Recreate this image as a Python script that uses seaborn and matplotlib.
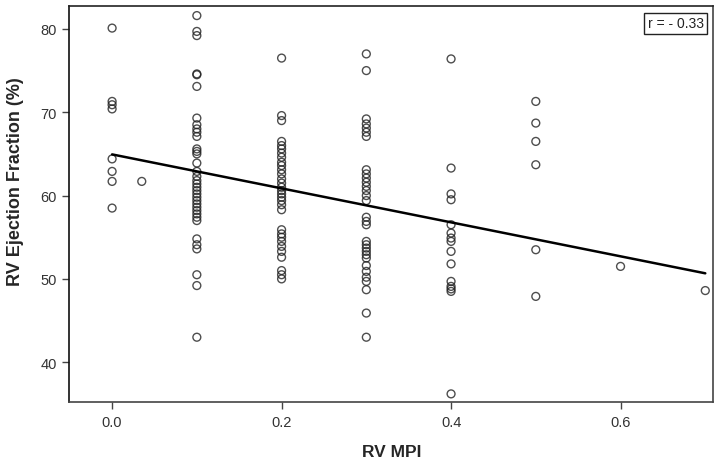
import numpy as np
import pandas as pd
import matplotlib
matplotlib.use("Agg")
import matplotlib.pyplot as plt
import seaborn as sns

# RV MPI groups and the RV ejection fraction values
ef_000 = [80.1, 71.3, 70.9, 70.4, 64.4, 62.9, 61.7, 58.5]
ef_0035 = [61.7]
ef_010 = [81.6, 79.7, 79.2, 74.6, 74.5, 73.1, 69.3, 68.5, 68.0, 67.6, 67.1,
          65.6, 65.3, 65.0, 63.9, 62.9, 62.3, 61.8, 61.4, 61.0, 60.6, 60.2,
          59.8, 59.4, 59.0, 58.6, 58.2, 57.8, 57.4, 57.0, 54.8, 54.1, 53.6,
          50.5, 49.2, 43.0]
ef_020 = [76.5, 69.6, 69.0, 66.5, 66.0, 65.6, 65.1, 64.6, 64.0, 63.6, 63.1,
          62.6, 62.0, 61.5, 61.0, 60.6, 60.2, 59.8, 59.4, 58.9, 58.3, 55.9,
          55.4, 55.0, 54.5, 53.9, 53.3, 52.6, 51.0, 50.5, 50.0]
ef_030 = [77.0, 75.0, 69.2, 68.6, 68.1, 67.6, 67.1, 63.1, 62.6, 62.1, 61.6,
          61.1, 60.6, 60.0, 59.4, 57.4, 56.9, 56.5, 54.5, 54.1, 53.7, 53.3,
          52.9, 52.5, 51.6, 50.9, 50.2, 49.7, 48.7, 45.9, 43.0]
ef_040 = [76.4, 63.3, 60.2, 59.5, 56.5, 55.5, 54.9, 54.5, 53.3, 51.8, 49.7,
          49.1, 48.8, 48.5, 36.2]
ef_050 = [71.3, 68.7, 66.5, 63.7, 53.5, 47.9]
ef_060 = [51.5]
ef_070 = [48.6]

groups = [(0.0, ef_000), (0.035, ef_0035), (0.1, ef_010), (0.2, ef_020),
          (0.3, ef_030), (0.4, ef_040), (0.5, ef_050), (0.6, ef_060),
          (0.7, ef_070)]

x_ticks = [0.0, 0.2, 0.4, 0.6]
y_ticks = [40, 50, 60, 70, 80]
r_label = "r = - 0.33"

df = pd.DataFrame({
    "mpi": [x for x, vals in groups for _ in vals],
    "ef": [v for _, vals in groups for v in vals],
})

sns.set_theme(style="white")
plt.rcParams["font.family"] = ["Liberation Sans", "DejaVu Sans"]

fig = plt.figure(figsize=(7.22, 4.64), dpi=100)
ax = fig.add_axes([0.096, 0.131, 0.892, 0.853])

sns.regplot(data=df, x="mpi", y="ef", ax=ax, ci=None,
            scatter_kws=dict(s=32, facecolors="none", edgecolors="#222222",
                             linewidths=1.0),
            line_kws=dict(color="black", lw=1.8))

ax.set_xlim(-0.0505, 0.7095)
ax.set_ylim(35.2, 82.7)
ax.set_xticks(x_ticks)
ax.set_xticklabels([f"{t:.1f}" for t in x_ticks])
ax.set_yticks(y_ticks)

for side in ["left", "bottom", "top", "right"]:
    ax.spines[side].set_visible(True)
    ax.spines[side].set_color("#444444")
    ax.spines[side].set_linewidth(1.2)
ax.spines["left"].set_color("#111111")
ax.spines["top"].set_color("#222222")

ax.tick_params(axis="both", which="both", direction="out", length=5, width=1,
               color="#444444", labelsize=10.5, labelcolor="#333333",
               left=True, bottom=True, pad=4)

ax.set_xlabel("RV MPI", fontsize=12.5, fontweight="bold")
ax.set_ylabel("RV Ejection Fraction (%)", fontsize=13, fontweight="bold")
ax.xaxis.set_label_coords(0.5, -0.105)
ax.yaxis.set_label_coords(-0.071, 0.561)

ax.text(0.985, 0.975, r_label, transform=ax.transAxes, ha="right", va="top",
        fontsize=10, color="#222222",
        bbox=dict(boxstyle="square,pad=0.25", fc="white", ec="#222222", lw=1))

fig.savefig("out.png", dpi=100)
